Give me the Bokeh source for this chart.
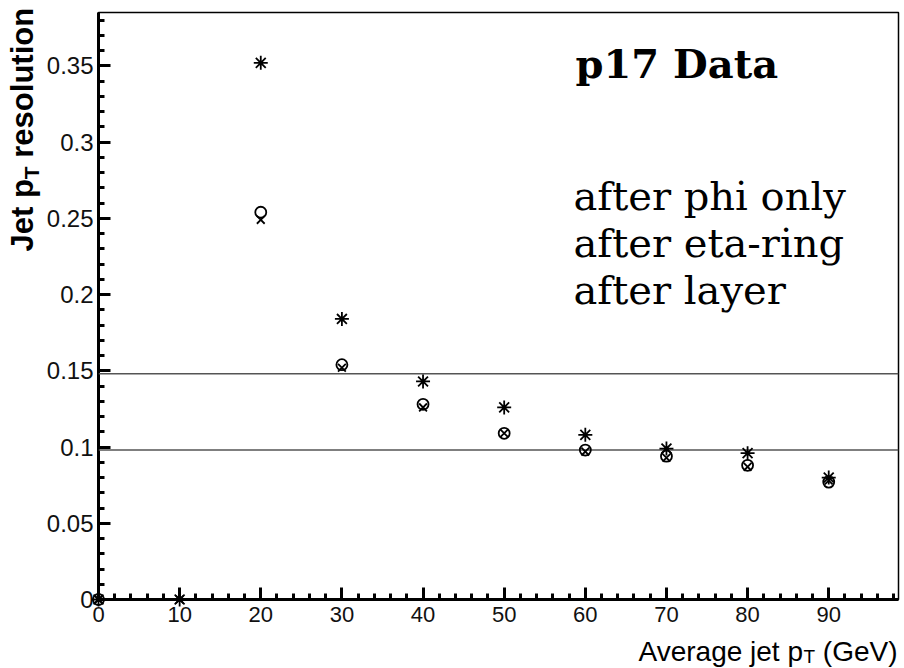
import numpy as np
from bokeh.plotting import figure
from bokeh.models import FixedTicker, Span, Range1d
from bokeh.core.properties import value
from bokeh.embed import file_html
from bokeh.resources import INLINE

# ---- data ----
pt = [0, 10, 20, 30, 40, 50, 60, 70, 80, 90]
res_phi = [0.0, 0.0, 0.352, 0.184, 0.143, 0.126, 0.108, 0.099, 0.096, 0.080]
res_eta = [0.0, float("nan"), 0.254, 0.154, 0.128, 0.109, 0.098, 0.094, 0.088, 0.077]
res_layer = [0.0, 0.0, 0.249, 0.152, 0.126, 0.109, 0.097, 0.093, 0.087, 0.078]
ref_lines = [0.148, 0.098]

x_ticks = [0, 10, 20, 30, 40, 50, 60, 70, 80, 90]
y_ticks = [0, 0.05, 0.1, 0.15, 0.2, 0.25, 0.3, 0.35]
y_tick_labels = ["0", "0.05", "0.1", "0.15", "0.2", "0.25", "0.3", "0.35"]

title_text = "p17 Data"
legend_texts = ["after phi only", "after eta-ring", "after layer"]

W, H = 904, 668
FL, FR, FT, FB = 98, 898, 12, 599
XMAX, YMAX = 98.6, 0.385


def dx(px):
    return (px - FL) / (FR - FL) * XMAX


def dy(py):
    return (FB - py) / (FB - FT) * YMAX


p = figure(width=W, height=H, output_backend="svg", toolbar_location=None,
           x_range=Range1d(0, XMAX), y_range=Range1d(0, YMAX),
           min_border_left=FL, min_border_right=W - FR,
           min_border_top=FT, min_border_bottom=H - FB)
p.background_fill_color = "white"
p.border_fill_color = "white"
p.outline_line_color = "black"
p.outline_line_width = 1.5
p.xgrid.visible = False
p.ygrid.visible = False

minor_x = [float(v) for v in np.arange(0, 100, 2)]
minor_y = [round(float(v), 2) for v in np.arange(0, 0.39, 0.01)]
p.xaxis.ticker = FixedTicker(ticks=x_ticks, minor_ticks=minor_x)
p.yaxis.ticker = FixedTicker(ticks=y_ticks, minor_ticks=minor_y)
p.yaxis.major_label_overrides = {v: s for v, s in zip(y_ticks, y_tick_labels)}

for ax in (p.xaxis[0], p.yaxis[0]):
    ax.axis_line_width = 3
    ax.axis_line_color = "black"
    ax.major_tick_in = 12
    ax.major_tick_out = 0
    ax.minor_tick_in = 6
    ax.minor_tick_out = 0
    ax.major_tick_line_width = 3
    ax.minor_tick_line_width = 3
    ax.major_label_text_font = "Liberation Sans"
    ax.major_label_text_color = "#111111"
p.xaxis.major_label_text_font_size = "22px"
p.yaxis.major_label_text_font_size = "24px"
p.xaxis.major_label_standoff = 7
p.yaxis.major_label_standoff = 5

for yv in ref_lines:
    p.add_layout(Span(location=yv, dimension="width", line_color="#555555", line_width=1.5))

for ys, mk, sz in ((res_phi, "asterisk", 14), (res_eta, "circle", 11), (res_layer, "x", 11)):
    r = p.scatter(pt, ys, marker=mk, size=sz, fill_color=None, line_color="black", line_width=1.8)
    r.level = "overlay"


def put_text(px, py, txt, size, font="Liberation Sans", style="normal", angle=0.0, k=0.37):
    # py / px is the wanted alphabetic baseline; k corrects the renderer's baseline offset
    if angle == 0.0:
        py = py - k * size
    else:
        px = px - k * size
    r = p.text(x=[dx(px)], y=[dy(py)], text=[txt], angle=angle,
               text_font=value(font), text_font_style=style,
               text_font_size=f"{size}px", text_baseline="alphabetic",
               text_align="left", text_color="black")
    r.level = "overlay"
    return r


# legend / title texts
put_text(575, 79, title_text, 40, font="DejaVu Serif", style="bold", k=0.4)
for i, t in enumerate(legend_texts):
    put_text(573, 211 + 47 * i, t, 40, font="DejaVu Serif", k=0.4)

# x-axis title with subscript
fs, fsub = 28, 19
cx = 638
put_text(cx, 661, "Average jet p", fs)
cx += 5.892 * fs
put_text(cx, 663, "T", fsub)
cx += 0.611 * fsub + 0.278 * fs
put_text(cx, 661, "(GeV)", fs)

# y-axis title (rotated) with subscript
fy, fysub = 31, 21
cy = 251
bx = 33
put_text(bx, cy, "Jet p", fy, style="bold", angle=np.pi / 2)
cy -= 2.334 * fy
put_text(bx + 6, cy, "T", fysub, style="bold", angle=np.pi / 2)
cy -= 0.611 * fysub + 0.278 * fy
put_text(bx, cy, "resolution", fy, style="bold", angle=np.pi / 2)

open("out.html", "w").write(file_html(p, INLINE))
